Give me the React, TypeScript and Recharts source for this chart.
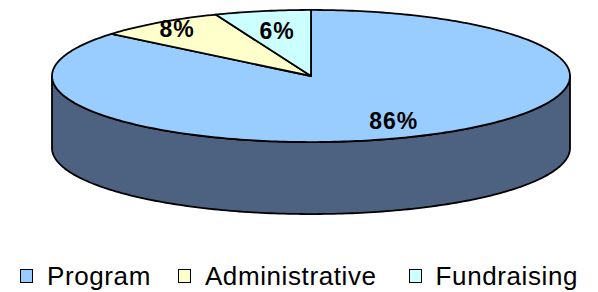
import React from "react";
import { PieChart, Pie, Cell, Legend } from "recharts";

// spending split, percent of total
const categories = ["Program", "Administrative", "Fundraising"];
const shares = [86, 8, 6];

const colors = ["#99CCFF", "#FFFFCC", "#CCFFFF"];
const sideColors = ["#4D6180", "#8C8C66", "#668C8C"];
// how far out each percentage label sits, as a share of the radius
const labelRadius = [0.75, 0.88, 0.7];

const data = categories.map((name, i) => ({ name, value: shares[i] }));

const TILT = 0.255;
const DEPTH = 72;
const FONT = "Arial, 'Liberation Sans', sans-serif";

const pt = (cx: number, cy: number, rx: number, ry: number, deg: number) => {
  const a = (deg * Math.PI) / 180;
  return [cx + rx * Math.cos(a), cy - ry * Math.sin(a)];
};

const arc = (cx: number, cy: number, rx: number, ry: number, a1: number, a2: number) => {
  const steps = Math.max(2, Math.ceil(Math.abs(a2 - a1)));
  const out: number[][] = [];
  for (let i = 0; i <= steps; i++) out.push(pt(cx, cy, rx, ry, a1 + ((a2 - a1) * i) / steps));
  return out;
};

const toPath = (pts: number[][]) =>
  pts.map((p, i) => `${i ? "L" : "M"}${p[0].toFixed(2)},${p[1].toFixed(2)}`).join(" ");

const Slice3D = (props: any) => {
  const { cx, cy, outerRadius, startAngle, endAngle, index } = props;
  const rx = outerRadius;
  const ry = outerRadius * TILT;
  const lo = Math.min(startAngle, endAngle);
  const hi = Math.max(startAngle, endAngle);

  // only the front half of the rim shows a wall
  const walls: string[] = [];
  for (const k of [-720, -360, 0, 360]) {
    const a = Math.max(lo, -180 + k);
    const b = Math.min(hi, k);
    if (b > a) {
      const top = arc(cx, cy, rx, ry, a, b);
      const bottom = arc(cx, cy + DEPTH, rx, ry, b, a);
      walls.push(toPath([...top, ...bottom]) + " Z");
    }
  }
  const face = toPath([[cx, cy], ...arc(cx, cy, rx, ry, startAngle, endAngle)]) + " Z";

  return (
    <g>
      {walls.map((d, i) => (
        <path key={i} d={d} fill={sideColors[index]} stroke="#000" strokeWidth={1.8} strokeLinejoin="round" />
      ))}
      <path d={face} fill={colors[index]} stroke="#000" strokeWidth={1.8} strokeLinejoin="round" />
    </g>
  );
};

const renderLabel = (props: any) => {
  const { cx, cy, midAngle, outerRadius, percent, index } = props;
  const r = outerRadius * labelRadius[index];
  const [x, y] = pt(cx, cy, r, r * TILT, midAngle);
  return (
    <text
      x={x}
      y={y}
      textAnchor="middle"
      dominantBaseline="central"
      fontFamily={FONT}
      fontWeight="bold"
      fontSize={23}
      letterSpacing={1}
      fill="#000"
    >
      {`${Math.round(percent * 100)}%`}
    </text>
  );
};

const renderLegend = () => (
  <div style={{ display: "flex", alignItems: "center", paddingLeft: 20, fontFamily: FONT }}>
    {categories.map((name, i) => (
      <div key={name} style={{ display: "flex", alignItems: "center", marginRight: i === 0 ? 27 : 32 }}>
        <span
          style={{
            boxSizing: "border-box",
            width: 13,
            height: 14,
            background: colors[i],
            border: "1.5px solid #000",
            marginRight: 14,
            display: "inline-block",
          }}
        />
        <span style={{ fontSize: 26, letterSpacing: 0.6, color: "#000", lineHeight: "30px" }}>{name}</span>
      </div>
    ))}
  </div>
);

export default function App() {
  return (
    <div style={{ position: "absolute", left: 0, top: 0, width: 598, height: 292, background: "#fff" }}>
      <PieChart width={598} height={292} margin={{ top: 0, right: 0, bottom: 0, left: 0 }}>
        <Pie
          data={data}
          dataKey="value"
          nameKey="name"
          cx={311}
          cy={76}
          outerRadius={259}
          startAngle={90}
          endAngle={-270}
          shape={Slice3D}
          activeShape={Slice3D}
          inactiveShape={Slice3D}
          label={renderLabel}
          labelLine={false}
          isAnimationActive={false}
        >
          {data.map((d, i) => (
            <Cell key={d.name} fill={colors[i]} />
          ))}
        </Pie>
        <Legend content={renderLegend} wrapperStyle={{ position: "absolute", left: 0, top: 261, width: 598 }} />
      </PieChart>
    </div>
  );
}
